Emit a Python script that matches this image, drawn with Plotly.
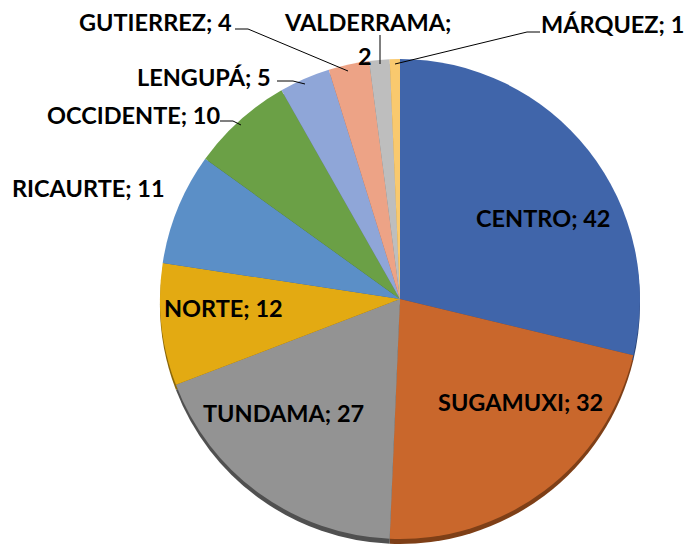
import plotly.graph_objects as go

# ---- data ----
regions = ["CENTRO", "SUGAMUXI", "TUNDAMA", "NORTE", "RICAURTE",
           "OCCIDENTE", "LENGUPÁ", "GUTIERREZ", "VALDERRAMA", "MÁRQUEZ"]
values = [42, 32, 27, 12, 11, 10, 5, 4, 2, 1]
colors = ["#4065AA", "#C9672C", "#939393", "#E3AA12", "#5B8FC7",
          "#6BA046", "#8FA6D8", "#EDA386", "#BEBEBE", "#F9C96E"]
rim_colors = ["#2A4475", "#7E3F17", "#505050", "#8A6608", "#375A80",
              "#41652A", "#5A6A8C", "#9A6451", "#777777", "#A88642"]

W, H = 684, 545


def px(x, y):
    return x / W, 1 - y / H


fig = go.Figure()

# rim (3D edge) pie, slightly lower
fig.add_trace(go.Pie(
    labels=regions, values=values, sort=False, direction="clockwise",
    marker=dict(colors=rim_colors, line=dict(width=0)),
    textinfo="none", hoverinfo="skip", showlegend=False,
    domain=dict(x=[160 / W, 640 / W], y=[1 / H, 481 / H]),
))

# main pie
fig.add_trace(go.Pie(
    labels=regions, values=values, sort=False, direction="clockwise",
    marker=dict(colors=colors, line=dict(width=0)),
    textinfo="none", showlegend=False,
    domain=dict(x=[160 / W, 640 / W], y=[6 / H, 486 / H]),
))

font = dict(family="Lato", size=23.5, color="#000000", weight="bold")

# label placements (pixel centers)
label_pos = {
    "CENTRO": (543, 218),
    "SUGAMUXI": (520, 402),
    "TUNDAMA": (283, 413),
    "NORTE": (223, 308),
    "RICAURTE": (88, 188),
    "OCCIDENTE": (133, 115),
    "LENGUPÁ": (204, 77),
    "GUTIERREZ": (155, 22),
    "MÁRQUEZ": (612, 24),
}
for name, v in zip(regions, values):
    if name in label_pos:
        x, y = px(*label_pos[name])
        fig.add_annotation(x=x, y=y, xref="paper", yref="paper",
                           text=f"{name}; {v}", showarrow=False,
                           xanchor="center", yanchor="middle", font=font)
# VALDERRAMA on two lines
vi = regions.index("VALDERRAMA")
x, y = px(367, 22)
fig.add_annotation(x=x, y=y, xref="paper", yref="paper",
                   text=f"{regions[vi]};", showarrow=False,
                   xanchor="center", yanchor="middle", font=font)
x, y = px(365, 56)
fig.add_annotation(x=x, y=y, xref="paper", yref="paper",
                   text=f"{values[vi]}", showarrow=False,
                   xanchor="center", yanchor="middle", font=font)

# leader lines
leaders = [
    [(220, 121), (233, 121), (241, 125)],          # OCCIDENTE
    [(277, 81), (293, 81), (305, 84)],             # LENGUPÁ
    [(235, 29), (248, 29), (348, 71)],             # GUTIERREZ
    [(380, 35), (380, 64)],                        # VALDERRAMA
    [(540, 32), (527, 32), (395, 64)],             # MÁRQUEZ
]
for pts in leaders:
    path = ""
    for i, (a, b) in enumerate(pts):
        xx, yy = px(a, b)
        path += ("M" if i == 0 else " L") + f" {xx} {yy}"
    fig.add_shape(type="path", path=path, xref="paper", yref="paper",
                  line=dict(color="#000000", width=1))

fig.update_layout(
    width=W, height=H,
    margin=dict(l=0, r=0, t=0, b=0),
    paper_bgcolor="white", plot_bgcolor="white",
    showlegend=False,
)

fig.write_html(
    "out.html",
    config={"displayModeBar": False},
    post_script="document.body.style.margin='0';document.body.style.overflow='hidden';",
)
